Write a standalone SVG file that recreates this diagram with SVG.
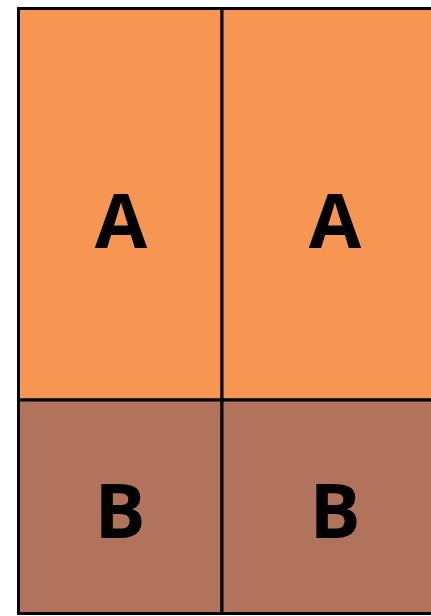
<svg xmlns="http://www.w3.org/2000/svg" width="431" height="616" viewBox="0 0 431 616">
<style>
.a{fill:#F79552;stroke:#000;stroke-width:3}
.b{fill:#B1735C;stroke:#000;stroke-width:3}
text{font-family:"Open Sans","Liberation Sans",sans-serif;font-weight:bold;font-size:76px;fill:#000;text-anchor:middle}
</style>
<rect width="431" height="616" fill="#fff"/>
<g id="a1"><rect class="a" x="18.5" y="8.5" width="203.5" height="391.5"/><text x="121" y="248">A</text></g>
<g id="a2"><rect class="a" x="222" y="8.5" width="226" height="391.5"/><text x="335" y="248">A</text></g>
<g id="b1"><rect class="b" x="18.5" y="400" width="203.5" height="213.5"/><text x="120" y="538">B</text></g>
<g id="b2"><rect class="b" x="222" y="400" width="226" height="213.5"/><text x="335" y="538">B</text></g>
</svg>
